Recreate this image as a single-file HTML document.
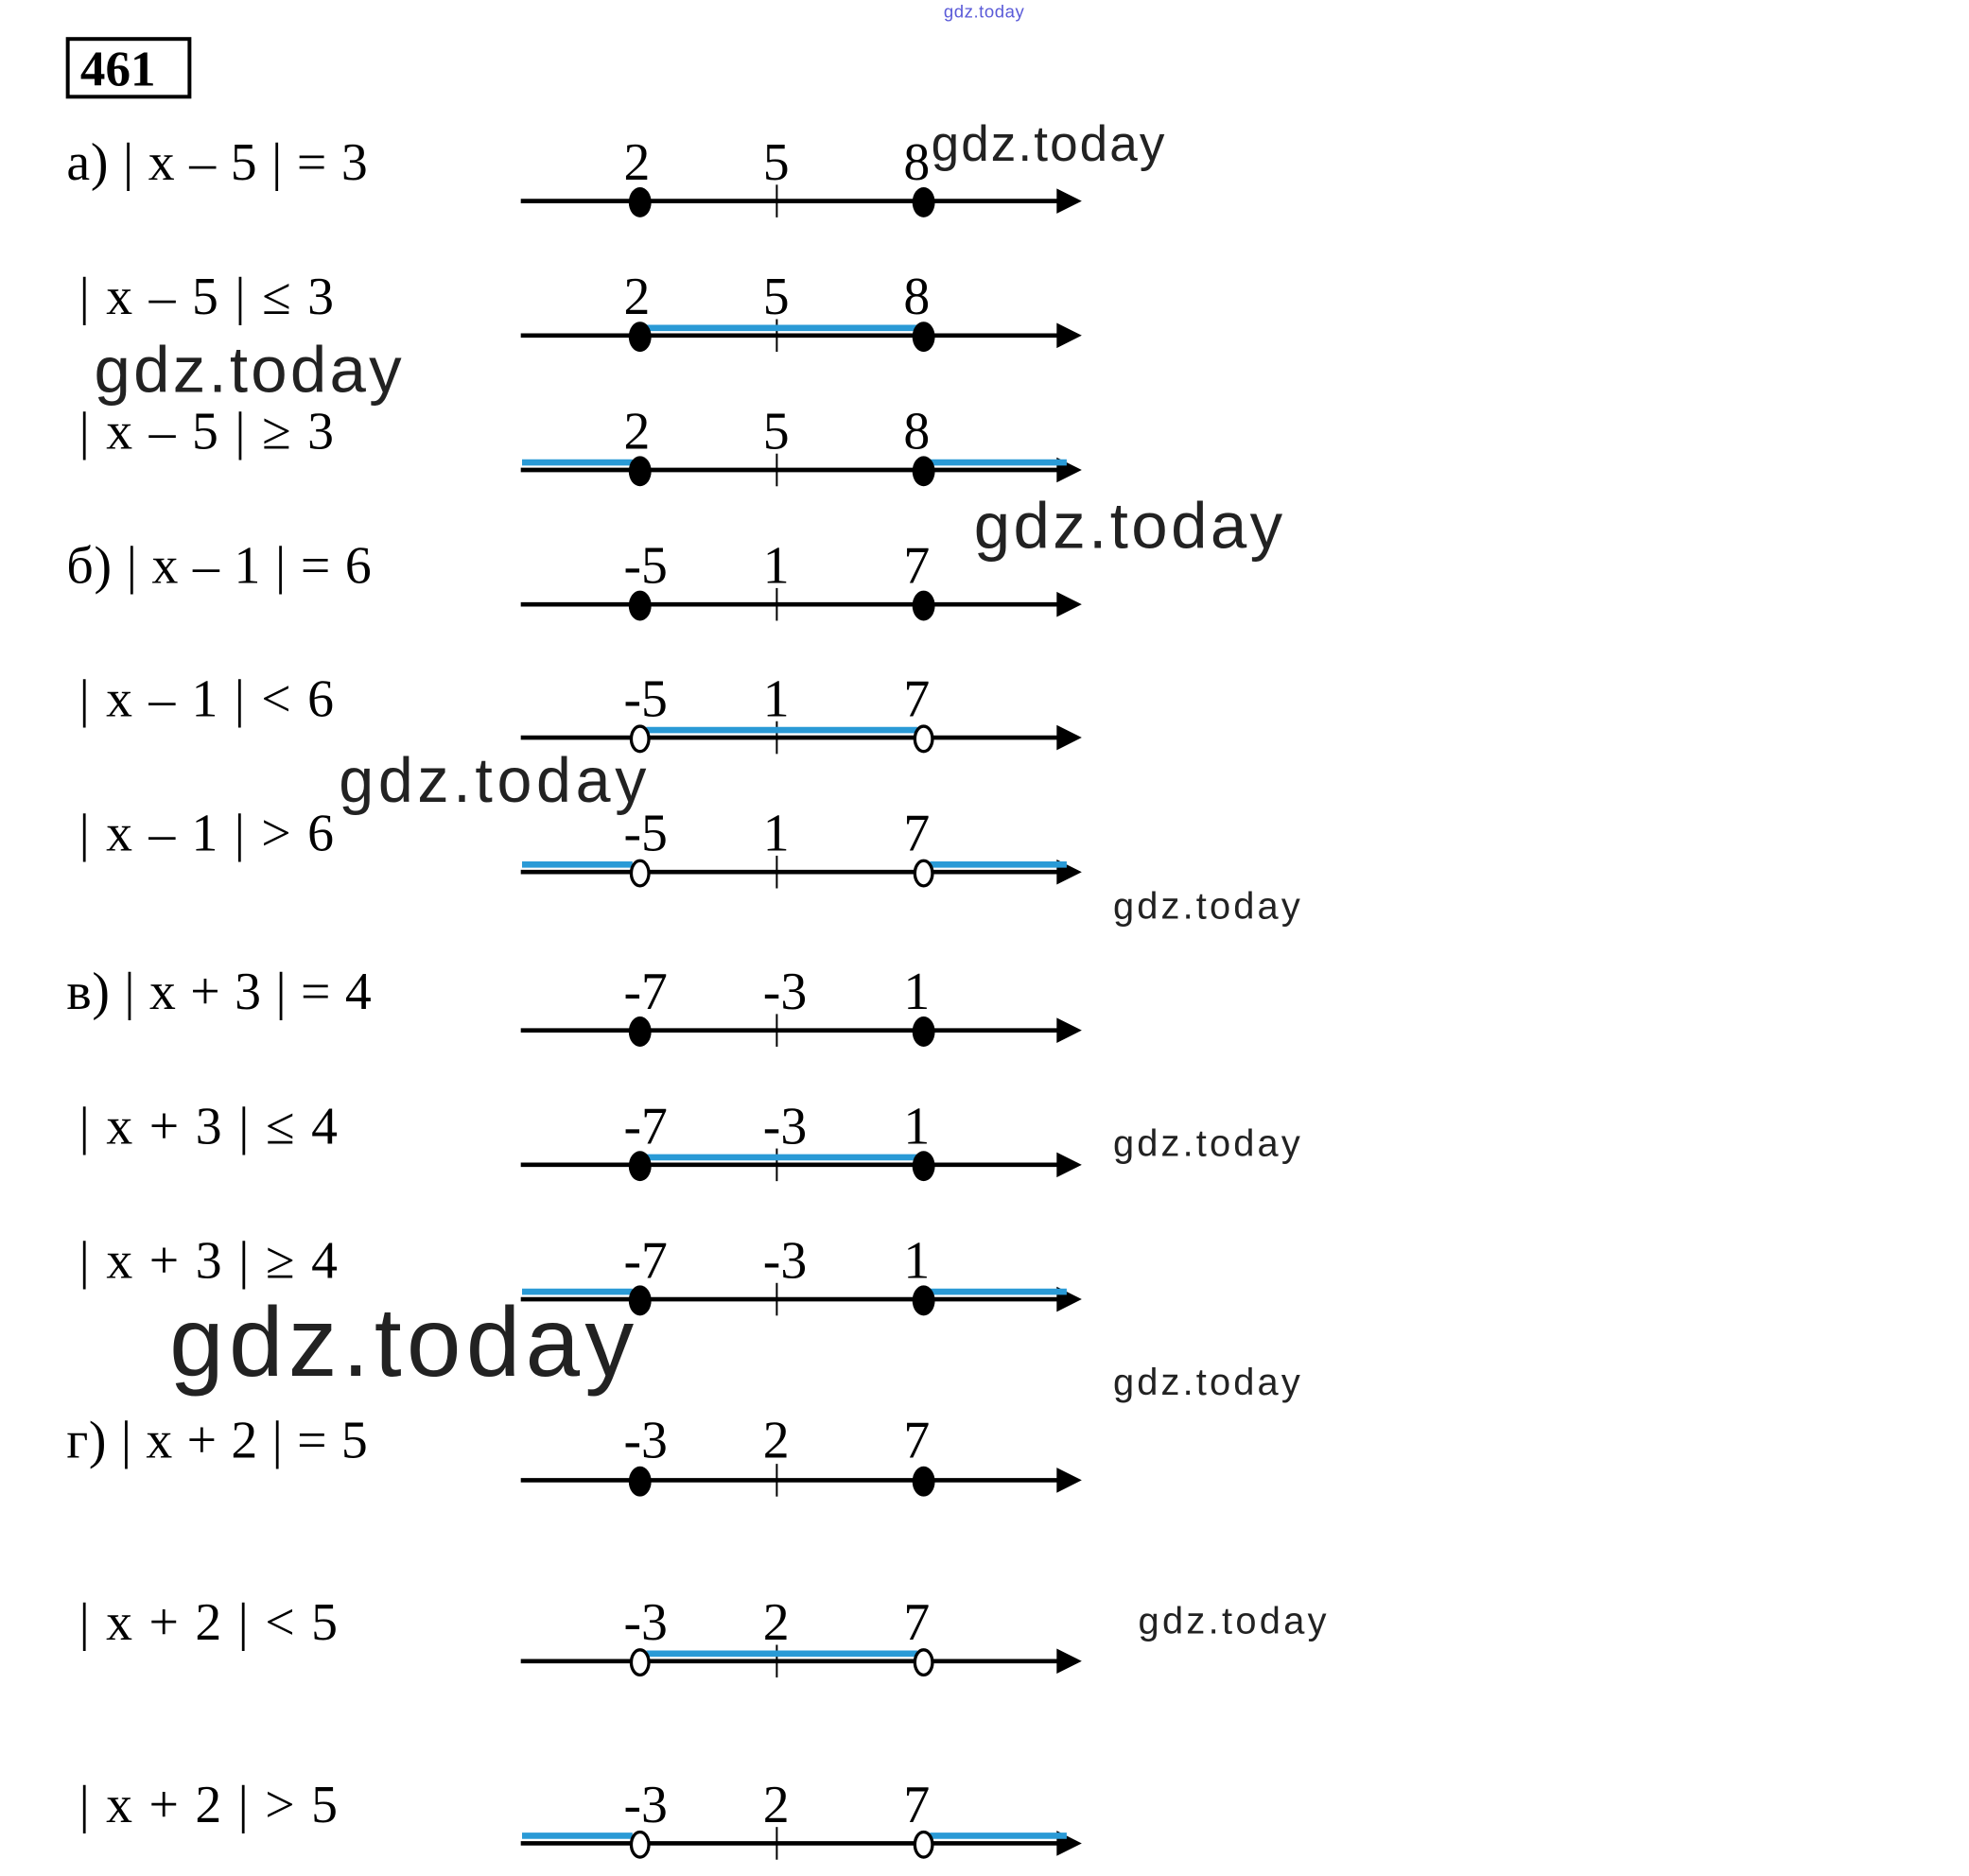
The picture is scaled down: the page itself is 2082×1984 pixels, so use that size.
<!DOCTYPE html>
<html><head><meta charset="utf-8"><style>
html,body{margin:0;padding:0;background:#fff;}
svg{display:block;}
.t{font-family:"Liberation Serif",serif;font-size:42px;fill:#000;}
.w{font-family:"Liberation Sans",sans-serif;fill:#222;}
</style></head><body>
<svg width="2082" height="1984" viewBox="0 0 1569 1493" preserveAspectRatio="none" xmlns="http://www.w3.org/2000/svg">
<defs>
<g id="ax">
<line x1="415" y1="0" x2="845" y2="0" stroke="#000" stroke-width="3.5"/>
<polygon points="842,-10 862,0 842,10" fill="#000"/>
<line x1="619" y1="-13" x2="619" y2="13" stroke="#000" stroke-width="1.5"/>
</g>
<g id="fd"><ellipse cx="510" cy="1" rx="9" ry="12" fill="#000"/><ellipse cx="736" cy="1" rx="9" ry="12" fill="#000"/></g>
<g id="od"><ellipse cx="510" cy="1" rx="7" ry="10" fill="#fff" stroke="#000" stroke-width="2.5"/><ellipse cx="736" cy="1" rx="7" ry="10" fill="#fff" stroke="#000" stroke-width="2.5"/></g>
<g id="bm"><line x1="515" y1="-6" x2="731" y2="-6" stroke="#2a9ad6" stroke-width="5"/></g>
<g id="bo"><line x1="416" y1="-6" x2="504" y2="-6" stroke="#2a9ad6" stroke-width="5"/><line x1="741" y1="-6" x2="850" y2="-6" stroke="#2a9ad6" stroke-width="5"/></g>
</defs>
<text x="752" y="14" font-family="Liberation Sans,sans-serif" font-size="14" fill="#5a5ad8" textLength="64">gdz.today</text>
<rect x="54" y="31" width="97" height="46" fill="none" stroke="#000" stroke-width="3"/>
<text x="64" y="68" font-family="Liberation Serif,serif" font-weight="bold" font-size="40">461</text>

<g transform="translate(0,160)"><use href="#ax"/><use href="#fd"/></g>
<text class="t" x="53" y="143" textLength="240">а) | x – 5 | = 3</text>
<text class="t" x="497" y="143">2</text><text class="t" x="608" y="143">5</text><text class="t" x="720" y="143">8</text>
<g transform="translate(0,267)"><use href="#ax"/><use href="#bm"/><use href="#fd"/></g>
<text class="t" x="63" y="250" textLength="203">| x – 5 | ≤ 3</text>
<text class="t" x="497" y="250">2</text><text class="t" x="608" y="250">5</text><text class="t" x="720" y="250">8</text>
<g transform="translate(0,374)"><use href="#ax"/><use href="#bo"/><use href="#fd"/></g>
<text class="t" x="63" y="357" textLength="203">| x – 5 | ≥ 3</text>
<text class="t" x="497" y="357">2</text><text class="t" x="608" y="357">5</text><text class="t" x="720" y="357">8</text>
<g transform="translate(0,481)"><use href="#ax"/><use href="#fd"/></g>
<text class="t" x="53" y="464" textLength="243">б) | x – 1 | = 6</text>
<text class="t" x="497" y="464">-5</text><text class="t" x="608" y="464">1</text><text class="t" x="720" y="464">7</text>
<g transform="translate(0,587)"><use href="#ax"/><use href="#bm"/><use href="#od"/></g>
<text class="t" x="63" y="570" textLength="203">| x – 1 | &lt; 6</text>
<text class="t" x="497" y="570">-5</text><text class="t" x="608" y="570">1</text><text class="t" x="720" y="570">7</text>
<g transform="translate(0,694)"><use href="#ax"/><use href="#bo"/><use href="#od"/></g>
<text class="t" x="63" y="677" textLength="203">| x – 1 | &gt; 6</text>
<text class="t" x="497" y="677">-5</text><text class="t" x="608" y="677">1</text><text class="t" x="720" y="677">7</text>
<g transform="translate(0,820)"><use href="#ax"/><use href="#fd"/></g>
<text class="t" x="53" y="803" textLength="243">в) | x + 3 | = 4</text>
<text class="t" x="497" y="803">-7</text><text class="t" x="608" y="803">-3</text><text class="t" x="720" y="803">1</text>
<g transform="translate(0,927)"><use href="#ax"/><use href="#bm"/><use href="#fd"/></g>
<text class="t" x="63" y="910" textLength="206">| x + 3 | ≤ 4</text>
<text class="t" x="497" y="910">-7</text><text class="t" x="608" y="910">-3</text><text class="t" x="720" y="910">1</text>
<g transform="translate(0,1034)"><use href="#ax"/><use href="#bo"/><use href="#fd"/></g>
<text class="t" x="63" y="1017" textLength="206">| x + 3 | ≥ 4</text>
<text class="t" x="497" y="1017">-7</text><text class="t" x="608" y="1017">-3</text><text class="t" x="720" y="1017">1</text>
<g transform="translate(0,1178)"><use href="#ax"/><use href="#fd"/></g>
<text class="t" x="53" y="1160" textLength="240">г) | x + 2 | = 5</text>
<text class="t" x="497" y="1160">-3</text><text class="t" x="608" y="1160">2</text><text class="t" x="720" y="1160">7</text>
<g transform="translate(0,1322)"><use href="#ax"/><use href="#bm"/><use href="#od"/></g>
<text class="t" x="63" y="1305" textLength="206">| x + 2 | &lt; 5</text>
<text class="t" x="497" y="1305">-3</text><text class="t" x="608" y="1305">2</text><text class="t" x="720" y="1305">7</text>
<g transform="translate(0,1467)"><use href="#ax"/><use href="#bo"/><use href="#od"/></g>
<text class="t" x="63" y="1450" textLength="206">| x + 2 | &gt; 5</text>
<text class="t" x="497" y="1450">-3</text><text class="t" x="608" y="1450">2</text><text class="t" x="720" y="1450">7</text>

<text class="w" x="742" y="128" font-size="40" textLength="186">gdz.today</text>
<text class="w" x="75" y="312" font-size="52" textLength="245">gdz.today</text>
<text class="w" x="776" y="436" font-size="52" textLength="246">gdz.today</text>
<text class="w" x="270" y="638" font-size="50" textLength="245">gdz.today</text>
<text class="w" x="887" y="731" font-size="30" textLength="149">gdz.today</text>
<text class="w" x="887" y="920" font-size="30" textLength="149">gdz.today</text>
<text class="w" x="135" y="1095" font-size="78" textLength="370">gdz.today</text>
<text class="w" x="887" y="1110" font-size="30" textLength="149">gdz.today</text>
<text class="w" x="907" y="1300" font-size="30" textLength="150">gdz.today</text>
</svg>
</body></html>
